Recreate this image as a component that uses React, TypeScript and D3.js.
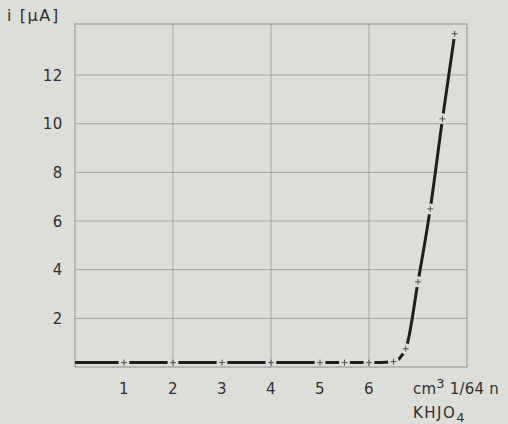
import React, { useEffect, useRef } from "react";
import * as d3 from "d3";

// KHJO4 volume (cm3 1/64 n) vs current (µA)
const volume = [0, 1, 2, 3, 4, 5, 5.5, 6, 6.5, 6.75, 7.0, 7.25, 7.5, 7.75];
const current = [0.18, 0.18, 0.18, 0.18, 0.18, 0.18, 0.18, 0.18, 0.22, 0.75, 3.5, 6.5, 10.2, 13.7];
const marked = [false, true, true, true, true, true, true, true, true, true, true, true, true, true];

const xTickLabels = [1, 2, 3, 4, 5, 6];
const yTickLabels = [2, 4, 6, 8, 10, 12];
const xGrid = [2, 4, 6];
const yGrid = [2, 4, 6, 8, 10, 12];

const W = 508;
const H = 424;
const bg = "#deded8";
const ink = "#2e2e2e";
const gridCol = "#8e8e8e";

const App = () => {
  const ref = useRef<SVGSVGElement>(null);

  useEffect(() => {
    const svg = d3.select(ref.current);
    svg.selectAll("*").remove();

    const x = d3.scaleLinear().domain([0, 8]).range([75, 467]);
    const y = d3.scaleLinear().domain([0, 14.1]).range([367, 24]);

    svg.append("rect").attr("width", W).attr("height", H).attr("fill", bg);

    const font = "'DejaVu Sans', sans-serif";

    // grid
    svg
      .selectAll("line.vg")
      .data(xGrid)
      .join("line")
      .attr("x1", (d) => x(d))
      .attr("x2", (d) => x(d))
      .attr("y1", y(14.1))
      .attr("y2", y(0))
      .attr("stroke", gridCol)
      .attr("stroke-width", 0.7);
    svg
      .selectAll("line.hg")
      .data(yGrid)
      .join("line")
      .attr("x1", x(0))
      .attr("x2", x(8))
      .attr("y1", (d) => y(d))
      .attr("y2", (d) => y(d))
      .attr("stroke", gridCol)
      .attr("stroke-width", 0.7);

    svg
      .append("rect")
      .attr("x", x(0))
      .attr("y", y(14.1))
      .attr("width", x(8) - x(0))
      .attr("height", y(0) - y(14.1))
      .attr("fill", "none")
      .attr("stroke", "#7c7c7c")
      .attr("stroke-width", 0.8);

    const txt = (sel: any, size = 15) =>
      sel
        .attr("font-family", font)
        .attr("font-size", size)
        .attr("letter-spacing", 0.6)
        .attr("fill", ink);

    // tick labels
    txt(
      svg
        .selectAll("text.xt")
        .data(xTickLabels)
        .join("text")
        .attr("x", (d) => x(d))
        .attr("y", 394)
        .attr("text-anchor", "middle")
    ).text((d) => d);
    txt(
      svg
        .selectAll("text.yt")
        .data(yTickLabels)
        .join("text")
        .attr("x", 63)
        .attr("y", (d) => y(d) + 5.5)
        .attr("text-anchor", "end")
    ).text((d) => d);

    // axis titles
    txt(svg.append("text").attr("x", 7).attr("y", 21), 16)
      .attr("letter-spacing", 1.6)
      .text("i [µA]");

    const xt = txt(svg.append("text").attr("x", 413).attr("y", 394), 15).attr("letter-spacing", 0.2);
    xt.append("tspan").text("cm");
    xt.append("tspan").attr("dy", -6).attr("font-size", 13).text("3");
    xt.append("tspan").attr("dy", 6).text(" 1/64 n");

    const kt = txt(svg.append("text").attr("x", 413).attr("y", 418), 15).attr("letter-spacing", 1.5);
    kt.append("tspan").text("KHJO");
    kt.append("tspan").attr("dy", 4).attr("font-size", 13).text("4");

    // curve
    const pts = volume.map((v, i) => ({ v, c: current[i], m: marked[i] }));
    const mk = pts.filter((d) => d.m);
    const line = d3
      .line<{ v: number; c: number }>()
      .x((d) => x(d.v))
      .y((d) => y(d.c))
      .curve(d3.curveMonotoneX);

    // mask leaves gaps in the curve around each marker
    const mask = svg.append("defs").append("mask").attr("id", "gapMask");
    mask.append("rect").attr("width", W).attr("height", H).attr("fill", "white");
    mask
      .selectAll("circle")
      .data(mk)
      .join("circle")
      .attr("cx", (d) => x(d.v))
      .attr("cy", (d) => y(d.c))
      .attr("r", 5.5)
      .attr("fill", "black");

    svg
      .append("path")
      .attr("d", line(pts))
      .attr("fill", "none")
      .attr("stroke", "#1e1e1e")
      .attr("stroke-width", 3)
      .attr("mask", "url(#gapMask)");

    // plus markers
    const g = svg
      .selectAll("g.mk")
      .data(mk)
      .join("g")
      .attr("transform", (d) => `translate(${x(d.v)},${y(d.c)})`);
    g.append("line").attr("x1", -3).attr("x2", 3).attr("stroke", "#444").attr("stroke-width", 0.9);
    g.append("line").attr("y1", -3).attr("y2", 3).attr("stroke", "#444").attr("stroke-width", 0.9);
  }, []);

  return (
    <svg
      ref={ref}
      width={W}
      height={H}
      style={{ position: "absolute", left: 0, top: 0, display: "block" }}
    />
  );
};

export default App;
